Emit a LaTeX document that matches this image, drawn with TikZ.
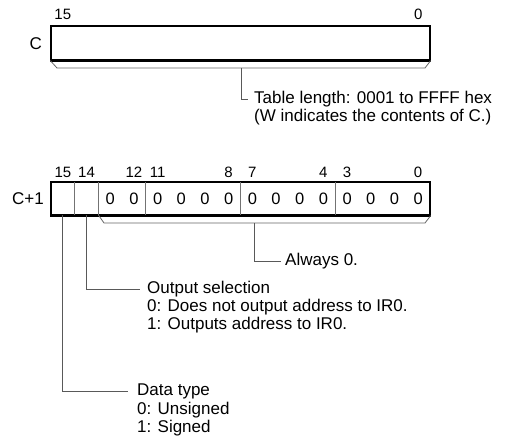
\documentclass[tikz,border=0pt]{standalone}
\usepackage{fontspec}
\setmainfont{Liberation Sans}
\usetikzlibrary{positioning}

\begin{document}
\begin{tikzpicture}[x=1pt, y=-1pt,
    reg/.style={draw, line width=1.3pt, minimum width=379pt, minimum height=34pt, inner sep=0pt},
    bitno/.style={font=\fontsize{15}{15}\selectfont, inner sep=0pt},
    bitval/.style={font=\fontsize{16.5}{16.5}\selectfont, inner sep=0pt},
    txt/.style={font=\fontsize{17}{18}\selectfont, inner sep=0pt, anchor=west, align=left},
    lead/.style={draw=black!65, line width=0.9pt},
    brace/.style={draw=black!60, line width=0.8pt},
    divider/.style={draw=black!55, line width=0.8pt}
  ]
  \useasboundingbox (0,0) rectangle (516,441);
  \def\bw{23.6875}

  % word C
  \node[reg] (regC) at (240.5,43) {};
  \draw[line width=2.2pt] (regC.south west) -- (regC.south east);
  \node[txt, anchor=east] (nameC) at (42,44) {C};
  \node[bitno] (c15) at (62.8,14) {15};
  \node[bitno] (c0) at (418.2,14) {0};
  \draw[brace] (regC.south west) -- (57,68) -- (425,68) -- (regC.south east);
  \coordinate (legC) at (241,68);
  \node[txt] (tbl) at (254,99) {Table length: 0001 to FFFF hex};
  \node[txt] (tblnote) at (254,117) {(W indicates the contents of C.)};
  \draw[lead] (legC) |- ([xshift=-6pt]tbl.west);

  % word C+1
  \node[reg, minimum height=33pt] (regD) at (240.5,198.5) {};
  \node[txt, anchor=east] (nameD) at (44,199) {C+1};
  \foreach \b in {15,14,12,8,4}
    \draw[divider] (51+16*\bw-\b*\bw,182) -- (51+16*\bw-\b*\bw,215);
  \draw[line width=2.2pt] (regD.south west) -- (regD.south east);
  \foreach \b in {15,14,12,11,8,7,4,3,0}
    \node[bitno] (d\b) at (51+15.5*\bw-\b*\bw,172) {\b};
  \foreach \b in {0,...,13}
    \node[bitval] (v\b) at (51+15.5*\bw-\b*\bw,199) {0};
  \draw[brace] (98.4,215) -- (104,223) -- (425,223) -- (regD.south east);
  \coordinate (legZero) at (254,223);
  \node[txt] (always) at (285,261) {Always 0.};
  \draw[lead] (legZero) |- ([xshift=-4pt]always.west);

  % bit 14
  \coordinate (leg14) at (86.5,215);
  \node[txt] (outsel) at (147,289) {Output selection};
  \node[txt] (outvals) at (147,316) {0: Does not output address to IR0.\\1: Outputs address to IR0.};
  \draw[lead] (leg14) |- ([xshift=-7pt]outsel.west);

  % bit 15
  \coordinate (leg15) at (62.8,215);
  \node[txt] (dtype) at (137,391) {Data type};
  \node[txt] (dvals) at (137,419) {0: Unsigned\\1: Signed};
  \draw[lead] (leg15) |- ([xshift=-9pt]dtype.west);
\end{tikzpicture}
\end{document}
